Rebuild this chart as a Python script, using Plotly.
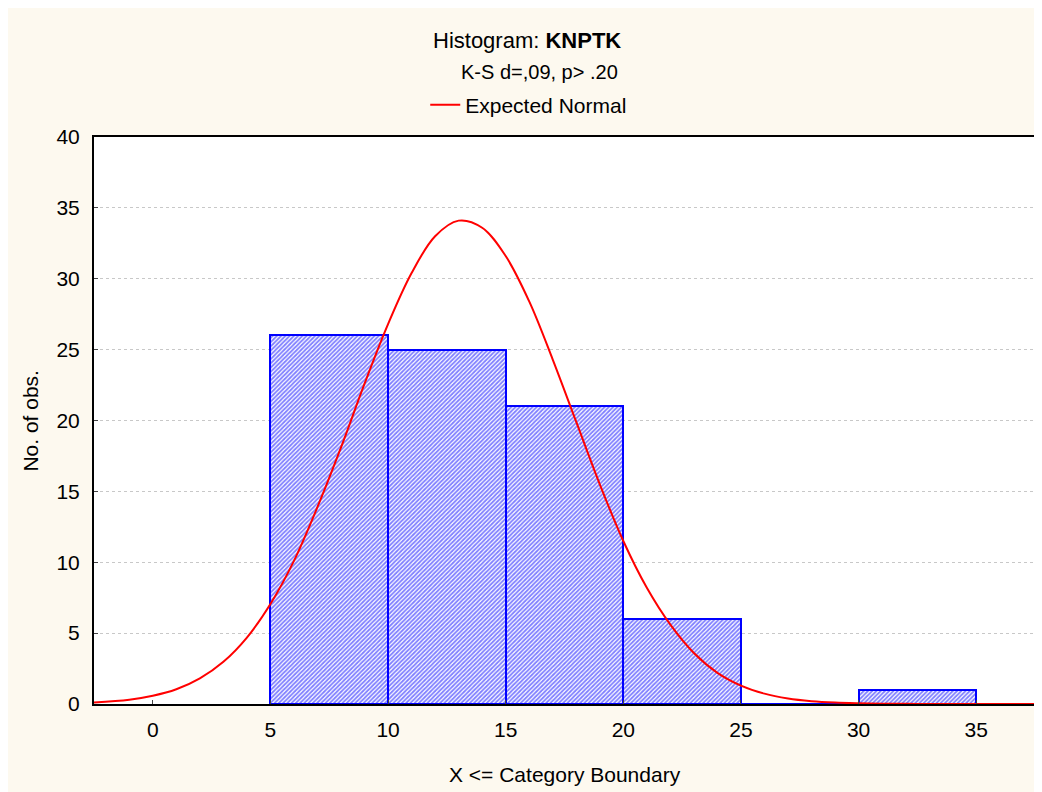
import plotly.graph_objects as go

# histogram bins (upper category boundary) and counts
bin_mid = [7.5, 12.5, 17.5, 22.5, 27.5, 32.5]
counts = [26, 25, 21, 6, 0, 1]

# expected normal curve
curve_x = [-2.5, -1, 0, 1, 2, 3, 4, 5, 6, 7, 8, 9, 10, 11, 12, 13, 14, 15, 16, 17, 18,
           19, 20, 21, 22, 23, 24, 25, 26, 27, 28, 29, 30, 31, 32, 33, 34, 35, 36, 37.5]
curve_y = [0.1, 0.3, 0.58, 1.04, 1.81, 2.98, 4.69, 7.06, 10.1, 13.9, 18.1, 22.6, 26.8, 30.4,
           33.0, 34.1, 33.6, 31.6, 28.4, 24.3, 19.9, 15.5, 11.5, 8.2, 5.6, 3.6, 2.2, 1.3,
           0.73, 0.39, 0.2, 0.1, 0.05, 0.02, 0.01, 0.0, 0.0, 0.0, 0.0, 0.0]

x_ticks = [0, 5, 10, 15, 20, 25, 30, 35]
y_ticks = [0, 5, 10, 15, 20, 25, 30, 35, 40]

fig = go.Figure()

# bars with hatching
fig.add_trace(go.Bar(
    x=bin_mid, y=counts, width=5,
    marker=dict(color='white',
                line=dict(color='#0000FF', width=2),
                pattern=dict(shape='/', fgcolor='#0000FF', bgcolor='white',
                             size=3, solidity=0.6)),
    showlegend=False))

# normal curve
fig.add_trace(go.Scatter(
    x=curve_x, y=curve_y, mode='lines', name='Expected Normal',
    line=dict(color='#FF0000', width=2, shape='spline')))

# page body has an 8px margin, so figure is sized to fit the window
fig.update_layout(
    width=1034, height=784,
    font=dict(family='Liberation Sans, Arial, sans-serif', size=21, color='black'),
    paper_bgcolor='#FDF9EF',
    plot_bgcolor='white',
    margin=dict(l=86, r=5, t=129, b=88),
    bargap=0,
    legend=dict(orientation='h', x=0.462, xanchor='center', y=1.0564, yanchor='middle',
                bgcolor='rgba(0,0,0,0)', font=dict(size=21)),
    annotations=[
        dict(text='Histogram: <b>KNPTK</b>', x=0.46, y=1.171, xref='paper', yref='paper',
             showarrow=False, xanchor='center', yanchor='middle', font=dict(size=22)),
        dict(text='K-S d=,09, p> .20', x=0.473, y=1.1146, xref='paper', yref='paper',
             showarrow=False, xanchor='center', yanchor='middle', font=dict(size=20)),
        dict(text='X <= Category Boundary', x=0.5, y=-0.1252, xref='paper', yref='paper',
             showarrow=False, xanchor='center', yanchor='middle', font=dict(size=21)),
        dict(text='No. of obs.', x=-0.0679, y=0.5, xref='paper', yref='paper',
             showarrow=False, xanchor='center', yanchor='middle', textangle=-90,
             font=dict(size=21)),
    ],
)

# axes and borders
fig.update_xaxes(range=[-2.5, 37.5], tickvals=x_ticks, ticks='inside', ticklen=4,
                 ticklabelstandoff=6,
                 showgrid=False, zeroline=False, showline=True, linewidth=2,
                 linecolor='black', mirror=True)
fig.update_yaxes(range=[0, 40], tickvals=y_ticks, ticks='inside', ticklen=4,
                 ticklabelstandoff=8,
                 showgrid=True, gridcolor='#C8C8C8', griddash='dot', gridwidth=1,
                 zeroline=False, showline=True, linewidth=2, linecolor='black',
                 mirror=True)

fig.write_html("out.html")
